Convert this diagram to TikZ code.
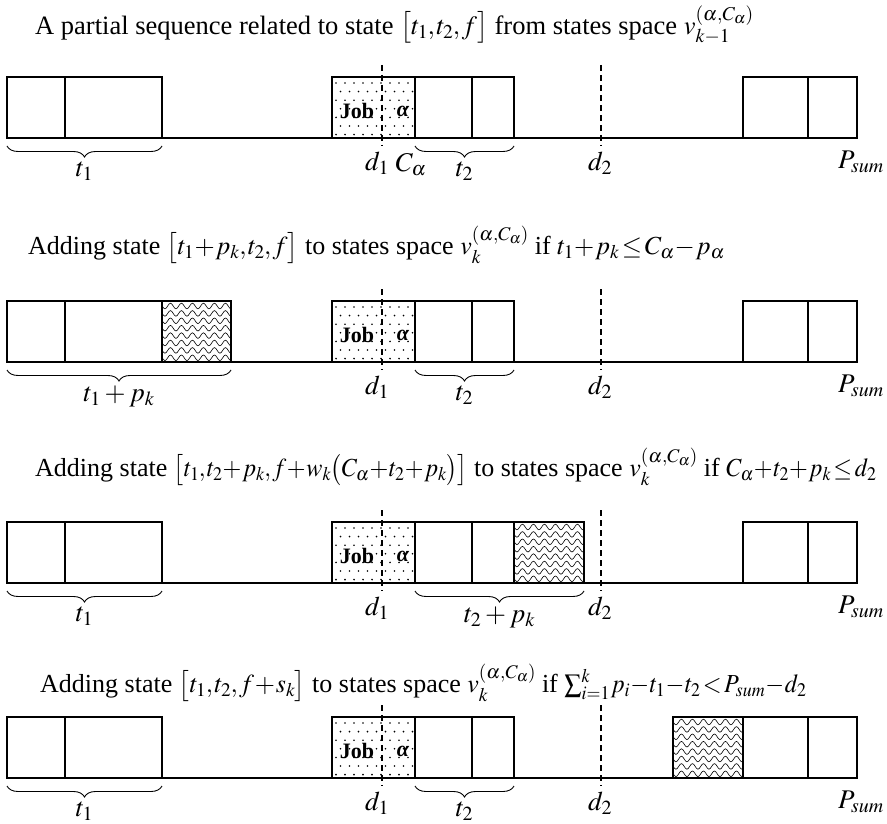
\documentclass[tikz,border=0pt]{standalone}
\usepackage{mathptmx}
\usepackage{graphicx}
\usepackage{fontspec}
\setmainfont{Liberation Serif}
\usetikzlibrary{decorations.pathreplacing,decorations.pathmorphing,calc}
\newcommand\tightmath{\thinmuskip=1mu\relax\medmuskip=0.5mu\relax\thickmuskip=2mu\relax\scriptspace=0pt\relax}
\newcommand\cmath[1]{\scalebox{0.93}[1]{$#1$}}
\tikzset{
  box/.style={draw, line width=1.5pt, minimum height=61pt, inner sep=0pt, outer sep=0pt, anchor=south west},
  baseln/.style={line width=1.5pt},
  dline/.style={line width=1.6pt, dash pattern=on 6pt off 4pt},
  wave/.style={line width=0.6pt, decorate, decoration={snake, segment length=11pt, amplitude=2.8pt}},
  brc/.style={line width=0.9pt, decorate, decoration={brace, mirror, amplitude=11pt}},
  lbl/.style={font={\fontsize{27}{30}\selectfont}, inner sep=1pt},
  title/.style={font={\fontsize{26}{30}\selectfont\tightmath}, anchor=west, inner sep=0pt},
  jobtxt/.style={font={\fontsize{22}{24}\selectfont\bfseries}, inner sep=0pt},
  dotst/.style={fill=black}
}
\newcommand\bx[4]{\node[box, minimum width={(#3-#2)*1pt}] (#1) at (#2,#4) {};}
\newcommand\wavefill[3]{%
  \begin{scope}
    \clip (#1,#3-61) rectangle (#2,#3);
    \foreach \k in {0,...,7} \draw[wave] (#1-6,#3-56+7.4*\k) -- (#2+6,#3-56+7.4*\k);
  \end{scope}}
\newcommand\jobdots[1]{%
  \begin{scope}
    \clip (332,#1-61) rectangle (415,#1);
    \foreach \j in {0,...,6} \foreach \i in {0,...,9}
      \fill[dotst] ({336+9*\i+4.5*mod(\j,2)},{#1-55+8.6*\j}) circle (0.9pt);
  \end{scope}}
\newcommand\jobbox[2]{% suffix, B
  \jobdots{#2}
  \bx{job#1}{332}{415}{#2}
  \node[jobtxt] (jobt#1) at (357,#2-27) {Job};
  \node[jobtxt] (alpha#1) at (403,#2-27) {\itshape α};}
\newcommand\common[2]{% suffix, B
  \coordinate (s#1) at (7,#2);
  \coordinate (e#1) at (857,#2);
  \draw[baseln] (s#1) -- (e#1);
  \bx{a#1}{7}{65}{#2}
  \bx{b#1}{65}{162}{#2}
  \bx{c#1}{415}{472}{#2}
  \bx{cc#1}{472}{514}{#2}
  \bx{r#1}{743}{808}{#2}
  \bx{rr#1}{808}{857}{#2}
  \jobbox{#1}{#2}
  \coordinate (d1t#1) at (382,#2-73);
  \coordinate (d1b#1) at (382,#2+8);
  \coordinate (d2t#1) at (601,#2-73);
  \coordinate (d2b#1) at (601,#2+8);
  \draw[dline] (d1t#1) -- (d1b#1);
  \draw[dline] (d2t#1) -- (d2b#1);
  \node[lbl] (d1l#1) at (377,#2+25) {$d_1$};
  \node[lbl] (d2l#1) at (600,#2+25) {$d_2$};
  \node[lbl] (psl#1) at (861,#2+24) {$P_{sum}$};}
\begin{document}
\begin{tikzpicture}[x=1pt,y=-1pt]
\useasboundingbox (0,0) rectangle (887,824);
% ---------- panel 1
\node[title, font={\fontsize{26.5}{30}\selectfont\tightmath}] (T1) at (35,25) {A partial sequence related to state $\big[t_1,t_2,f\big]$ from states space $v_{k-1}^{(\alpha,C_\alpha)}$};
\common{A}{138}
\node[lbl] (cal) at (411,138+27) {$C_\alpha$};
\draw[brc] ($(aA.south west)+(0,8)$) -- ($(bA.south east)+(0,8)$) node[lbl, midway, below=14pt] (t1A) {$t_1$};
\draw[brc] ($(cA.south west)+(0,8)$) -- ($(ccA.south east)+(0,8)$) node[lbl, midway, below=14pt] (t2A) {$t_2$};
% ---------- panel 2
\node[title] (T2) at (28,245) {Adding state $\big[t_1+p_k,t_2,f\big]$ to states space $v_k^{(\alpha,C_\alpha)}$ if $t_1+p_k\le C_\alpha-p_\alpha$};
\wavefill{162}{231}{362}
\common{B}{362}
\bx{hB}{162}{231}{362}
\draw[brc] ($(aB.south west)+(0,8)$) -- ($(hB.south east)+(0,8)$) node[lbl, midway, below=14pt] (t1B) {$t_1+p_k$};
\draw[brc] ($(cB.south west)+(0,8)$) -- ($(ccB.south east)+(0,8)$) node[lbl, midway, below=14pt] (t2B) {$t_2$};
% ---------- panel 3
\node[title] (T3) at (35,467) {Adding state \cmath{\big[t_1,t_2+p_k,f+w_k\big(C_\alpha+t_2+p_k\big)\big]} to states space $v_k^{(\alpha,C_\alpha)}$ if \cmath{C_\alpha+t_2+p_k\le d_2}};
\wavefill{514}{584}{583}
\common{C}{583}
\bx{hC}{514}{584}{583}
\draw[brc] ($(aC.south west)+(0,8)$) -- ($(bC.south east)+(0,8)$) node[lbl, midway, below=14pt] (t1C) {$t_1$};
\draw[brc] ($(cC.south west)+(0,8)$) -- ($(hC.south east)+(0,8)$) node[lbl, midway, below=14pt] (t2C) {$t_2+p_k$};
% ---------- panel 4
\node[title] (T4) at (40,683) {Adding state $\big[t_1,t_2,f+s_k\big]$ to states space $v_k^{(\alpha,C_\alpha)}$ if \cmath{\sum_{i=1}^{k}p_i-t_1-t_2<P_{sum}-d_2}};
\wavefill{673}{743}{778}
\common{D}{778}
\bx{hD}{673}{743}{778}
\draw[brc] ($(aD.south west)+(0,8)$) -- ($(bD.south east)+(0,8)$) node[lbl, midway, below=14pt] (t1D) {$t_1$};
\draw[brc] ($(cD.south west)+(0,8)$) -- ($(ccD.south east)+(0,8)$) node[lbl, midway, below=14pt] (t2D) {$t_2$};
\end{tikzpicture}
\end{document}
